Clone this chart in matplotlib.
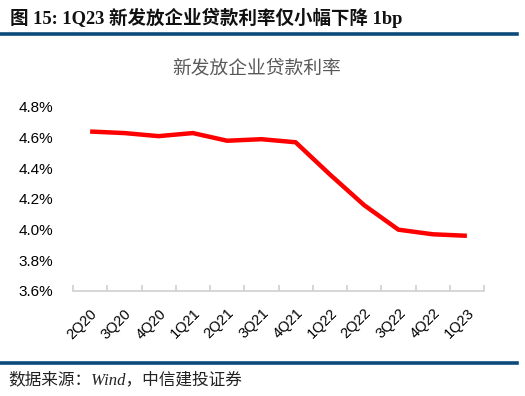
import numpy as np
import matplotlib
matplotlib.use("Agg")
import matplotlib.pyplot as plt
from matplotlib.ticker import FixedLocator, FuncFormatter

quarters = ['2Q20', '3Q20', '4Q20', '1Q21', '2Q21', '3Q21', '4Q21',
            '1Q22', '2Q22', '3Q22', '4Q22', '1Q23']
rate = [4.64, 4.63, 4.61, 4.63, 4.58, 4.59, 4.57, 4.36, 4.16, 4.00, 3.97, 3.96]
y_ticks = [3.6, 3.8, 4.0, 4.2, 4.4, 4.6, 4.8]

header = '图 15: 1Q23 新发放企业贷款利率仅小幅下降 1bp'
chart_title = '新发放企业贷款利率'
source = '数据来源：Wind，中信建投证券'

SANS = ['Liberation Sans', 'Noto Sans CJK SC']
SERIF = ['Liberation Serif', 'Noto Sans CJK SC']
BLUE = '#0b4a7a'

fig = plt.figure(figsize=(5.25, 3.96), dpi=100)

# header and rules
fig.text(10 / 525, 1 - 18 / 396, header, family=SERIF, fontweight='bold',
         fontsize=13.3, va='center', ha='left', color='#111111')
fig.add_artist(plt.Line2D([0, 517 / 525], [1 - 34 / 396] * 2, color=BLUE, lw=2.6))
fig.add_artist(plt.Line2D([0, 517 / 525], [1 - 362.5 / 396] * 2, color=BLUE, lw=2.6))
fig.text(8 / 525, 1 - 380 / 396, source, family=SERIF, style='italic',
         fontsize=12, va='center', ha='left', color='#222222')

# main axes
ax = fig.add_axes([73 / 525, 1 - 291 / 396, 411 / 525, 184 / 396])
x = np.arange(len(quarters))
ax.plot(x, rate, color='#ff0000', lw=3.2, solid_capstyle='butt', solid_joinstyle='round')
ax.set_xlim(-0.5, len(quarters) - 0.5)
ax.set_ylim(3.6, 4.8)

for s in ['top', 'right', 'left']:
    ax.spines[s].set_visible(False)
ax.spines['bottom'].set_color('#d0d0d0')
ax.spines['bottom'].set_linewidth(1.2)

ax.set_yticks(y_ticks)
ax.yaxis.set_major_formatter(FuncFormatter(lambda v, p: f'{v:.1f}%'))
ax.tick_params(axis='y', length=0, pad=14, labelsize=11)
for lab in ax.get_yticklabels():
    lab.set_family(SANS)

ax.set_xticks(x)
ax.set_xticklabels(quarters, rotation=45, ha='right', rotation_mode='anchor',
                   family=SANS, fontsize=10.5)
ax.tick_params(axis='x', which='major', length=0, pad=11)
ax.xaxis.set_minor_locator(FixedLocator(np.arange(-0.5, len(quarters), 1.0)))
ax.tick_params(axis='x', which='minor', direction='in', length=4, color='#d0d0d0', width=1.2)

fig.text(257 / 525, 1 - 69 / 396, chart_title, family=SANS, fontsize=13.5,
         color='#595959', ha='center', va='center')

fig.savefig('out.png', dpi=100)
